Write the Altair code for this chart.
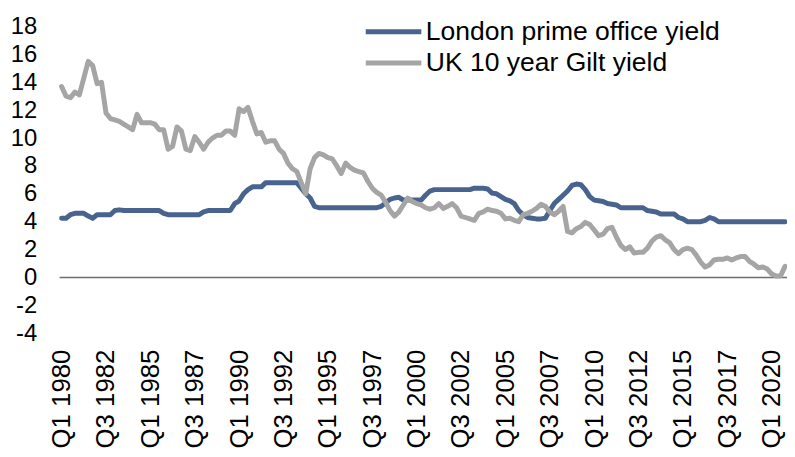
import altair as alt
import pandas as pd

# Quarterly categories Q1 1980 .. Q4 2020
years = list(range(1980, 2021))
quarters = [f"Q{q} {y}" for y in years for q in (1, 2, 3, 4)]

tick_labels = ["Q1 1980", "Q3 1982", "Q1 1985", "Q3 1987", "Q1 1990", "Q3 1992",
               "Q1 1995", "Q3 1997", "Q1 2000", "Q3 2002", "Q1 2005", "Q3 2007",
               "Q1 2010", "Q3 2012", "Q1 2015", "Q3 2017", "Q1 2020"]

series_names = ["London prime office yield", "UK 10 year Gilt yield"]

office_yield = [
    4.25, 4.25, 4.5, 4.6, 4.6, 4.6, 4.4, 4.25, 4.5, 4.5,
    4.5, 4.5, 4.8, 4.85, 4.8, 4.8, 4.8, 4.8, 4.8, 4.8,
    4.8, 4.8, 4.8, 4.6, 4.5, 4.5, 4.5, 4.5, 4.5, 4.5,
    4.5, 4.5, 4.7, 4.8, 4.8, 4.8, 4.8, 4.8, 4.8, 5.3,
    5.5, 6.0, 6.3, 6.5, 6.5, 6.5, 6.8, 6.8, 6.8, 6.8,
    6.8, 6.8, 6.8, 6.8, 6.4, 6.0, 5.7, 5.1, 5.0, 5.0,
    5.0, 5.0, 5.0, 5.0, 5.0, 5.0, 5.0, 5.0, 5.0, 5.0,
    5.0, 5.0, 5.1, 5.35, 5.6, 5.7, 5.75, 5.55, 5.55, 5.55,
    5.55, 5.55, 5.9, 6.2, 6.3, 6.3, 6.3, 6.3, 6.3, 6.3,
    6.3, 6.3, 6.3, 6.4, 6.4, 6.4, 6.35, 6.05, 6.0, 5.8,
    5.6, 5.5, 5.3, 4.8, 4.5, 4.3, 4.25, 4.2, 4.2, 4.25,
    4.8, 5.3, 5.6, 5.9, 6.2, 6.6, 6.7, 6.65, 6.3, 5.8,
    5.55, 5.5, 5.45, 5.3, 5.25, 5.2, 5.0, 5.0, 5.0, 5.0,
    5.0, 5.0, 4.8, 4.75, 4.7, 4.55, 4.55, 4.55, 4.55, 4.3,
    4.2, 4.0, 4.0, 4.0, 4.0, 4.1, 4.3, 4.2, 4.0, 4.0,
    4.0, 4.0, 4.0, 4.0, 4.0, 4.0, 4.0, 4.0, 4.0, 4.0,
    4.0, 4.0, 4.0, 4.0,
]

gilt_yield = [
    13.7, 13.0, 12.9, 13.3, 13.1, 14.3, 15.5, 15.2, 13.9, 14.0,
    11.8, 11.4, 11.3, 11.2, 11.0, 10.8, 10.6, 11.7, 11.1, 11.1,
    11.1, 11.0, 10.6, 10.6, 9.2, 9.4, 10.8, 10.5, 9.2, 9.1,
    10.1, 9.7, 9.2, 9.7, 10.0, 10.2, 10.2, 10.5, 10.5, 10.2,
    12.1, 11.9, 12.2, 11.2, 10.3, 10.4, 9.7, 9.8, 9.8, 9.2,
    8.9, 8.2, 7.8, 7.6, 6.8, 6.0, 7.8, 8.6, 8.9, 8.8,
    8.6, 8.5, 8.0, 7.45, 8.2, 7.9, 7.7, 7.6, 7.5, 6.9,
    6.4, 6.1, 5.9, 5.4, 4.8, 4.4, 4.7, 5.2, 5.7, 5.45,
    5.3, 5.2, 5.0, 4.9, 5.0, 5.3, 4.95, 5.1, 5.3, 5.0,
    4.4, 4.3, 4.2, 4.1, 4.6, 4.7, 4.9, 4.8, 4.75, 4.6,
    4.2, 4.25, 4.1, 4.0, 4.5, 4.6, 4.75, 4.95, 5.25, 5.1,
    4.7, 4.5, 4.75, 5.1, 3.3, 3.2, 3.5, 3.65, 3.95, 3.8,
    3.4, 3.0, 3.1, 3.5, 3.6, 2.9, 2.3, 2.0, 2.2, 1.75,
    1.8, 1.8, 2.1, 2.6, 2.9, 3.0, 2.7, 2.5, 2.0, 1.7,
    2.0, 2.1, 2.0, 1.6, 1.1, 0.75, 0.9, 1.25, 1.3, 1.3,
    1.4, 1.25, 1.4, 1.5, 1.5, 1.15, 0.95, 0.7, 0.75, 0.6,
    0.25, 0.1, 0.1, 0.8,
]

y_ticks = list(range(-4, 19, 2))

rows = []
for name, vals in zip(series_names, [office_yield, gilt_yield]):
    for q, v in zip(quarters, vals):
        rows.append({"quarter": q, "value": v, "series": name})
df = pd.DataFrame(rows)

FONT = "Liberation Sans"
BLUE = "#48648E"
GRAY = "#A5A5A5"

y_scale = alt.Scale(domain=[-4, 18], nice=False, zero=False)
y_axis = alt.Axis(
    title=None, values=y_ticks, labelFontSize=24, labelFont=FONT,
    labelColor="black", labelPadding=23, domain=False, ticks=False,
    tickSize=0, grid=False, labelExpr="'' + datum.value",
)

zero_line = alt.Chart(pd.DataFrame({"value": [0]})).mark_rule(
    color="#6F6C72", strokeWidth=1.5
).encode(y=alt.Y("value:Q", scale=y_scale, axis=y_axis))

lines = alt.Chart(df).mark_line(strokeWidth=5, strokeJoin="round", strokeCap="round").encode(
    x=alt.X(
        "quarter:O",
        sort=quarters,
        scale=alt.Scale(type="point", padding=0.45),
        axis=alt.Axis(
            title=None, values=tick_labels, labelAngle=270, labelFontSize=26,
            labelFont=FONT, labelColor="black", labelPadding=16, domain=False,
            ticks=False, tickSize=0, grid=False, labelOverlap=False,
        ),
    ),
    y=alt.Y("value:Q", scale=y_scale, axis=y_axis),
    color=alt.Color(
        "series:N",
        sort=series_names,
        scale=alt.Scale(domain=series_names, range=[BLUE, GRAY]),
        legend=alt.Legend(
            title=None, orient="none", legendX=306, legendY=-8,
            symbolType="stroke", symbolSize=3136, symbolStrokeWidth=5,
            labelFontSize=26.7, labelFont=FONT, labelColor="black",
            labelOffset=2, padding=0, rowPadding=4.5, symbolOffset=0,
            clipHeight=26.5, labelLimit=0,
        ),
    ),
    detail="series:N",
)

chart = alt.layer(zero_line, lines).properties(
    width=733, height=309,
    autosize=alt.AutoSizeParams(type="none"),
    padding={"left": 52, "top": 17, "right": 0, "bottom": 115},
).configure_view(stroke=None)

chart.save("out.html", embed_options={"renderer": "svg", "actions": False})
